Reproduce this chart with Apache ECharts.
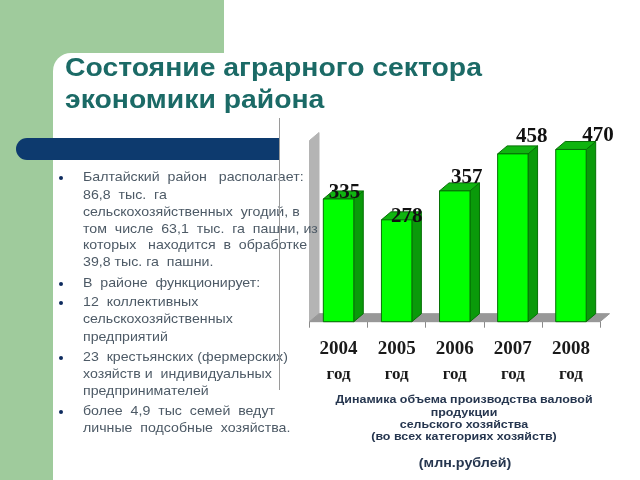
<!DOCTYPE html>
<html>
<head>
<meta charset="utf-8">
<style>
  html, body { margin: 0; padding: 0; background: #fff; }
  #chart { width: 640px; height: 480px; }
</style>
<script src="https://cdn.jsdelivr.net/npm/echarts@6/dist/echarts.min.js"></script>
</head>
<body>
<div id="chart"></div>
<script>
var years = ['2004', '2005', '2006', '2007', '2008']
var yearUnit = 'год'
var output = [335, 278, 357, 458, 470]
// the value labels sit off-centre in the original, [dx, dy] from the bar top
var labelNudge = [[6, -6], [10, -3], [12, -13], [19, -17], [27, -14]]

var titleLines = ['Состояние аграрного сектора', 'экономики района']
var bodyLines = [
  'Балтайский  район   располагает:',
  '86,8  тыс.  га',
  'сельскохозяйственных  угодий, в',
  'том  числе  63,1  тыс.  га  пашни, из',
  'которых   находится  в  обработке',
  '39,8 тыс. га  пашни.',
  'В  районе  функционирует:',
  '12  коллективных',
  'сельскохозяйственных',
  'предприятий',
  '23  крестьянских (фермерских)',
  'хозяйств и  индивидуальных',
  'предпринимателей',
  'более  4,9  тыс  семей  ведут',
  'личные  подсобные  хозяйства.'
]
var bodyLineY = [177, 195, 212, 229, 245, 262, 283, 302, 319, 337, 357, 374, 391, 411, 428]
var bulletLines = [0, 6, 7, 10, 13]
var captionLines = [
  'Динамика объема производства валовой',
  'продукции',
  'сельского хозяйства',
  '(во всех категориях хозяйств)'
]
var captionLineY = [400, 413, 425, 437]
var captionUnit = '(млн.рублей)'

var depthX = 9.5
var depthY = 8

function poly(points, fill, stroke) {
  return {
    type: 'polygon',
    shape: { points: points },
    style: { fill: fill, stroke: stroke || fill, lineWidth: 1 }
  }
}

function renderBackdrop(params) {
  var c = params.coordSys
  var bottom = c.y + c.height
  var right = c.x + c.width
  return {
    type: 'group',
    children: [
      poly([[c.x, bottom], [c.x, c.y + 2], [c.x + depthX, c.y - 6], [c.x + depthX, bottom - depthY]], '#b4b4b4'),
      poly([[c.x, bottom], [c.x + depthX, bottom - depthY], [right + depthX, bottom - depthY], [right, bottom]], '#989898')
    ]
  }
}

function renderBar(params, api) {
  var i = params.dataIndex
  var top = api.coord([api.value(0), api.value(1)])
  var base = api.coord([api.value(0), 0])
  var half = api.size([1, 0])[0] * 0.262
  var l = top[0] - half
  var r = top[0] + half
  var edge = '#067006'
  return {
    type: 'group',
    children: [
      poly([[r, top[1]], [r + depthX, top[1] - depthY], [r + depthX, base[1] - depthY], [r, base[1]]], '#0a9a0a', edge),
      poly([[l, top[1]], [l + depthX, top[1] - depthY], [r + depthX, top[1] - depthY], [r, top[1]]], '#10b410', edge),
      {
        type: 'rect',
        shape: { x: l, y: top[1], width: r - l, height: base[1] - top[1] },
        style: { fill: '#00ff00', stroke: edge, lineWidth: 1 }
      },
      {
        type: 'text',
        z2: 10,
        style: {
          text: String(api.value(1)),
          x: top[0] + labelNudge[i][0],
          y: top[1] + labelNudge[i][1],
          align: 'center',
          verticalAlign: 'middle',
          font: 'bold 21px "Liberation Serif"',
          fill: '#111'
        }
      }
    ]
  }
}

// the slide text is stretched sideways in the original, hence scaleX
function text(str, x, y, font, fill, align, stretch) {
  return {
    type: 'text',
    z: 3,
    x: x,
    y: y,
    scaleX: stretch || 1,
    style: { text: str, font: font, fill: fill, align: align || 'left', verticalAlign: 'middle' }
  }
}

var graphics = [
  { type: 'rect', z: -3, shape: { x: 0, y: 0, width: 224, height: 480 }, style: { fill: '#9fcb9c' } },
  { type: 'rect', z: -2, shape: { x: 53, y: 53, width: 587, height: 427, r: [18, 0, 0, 0] }, style: { fill: '#fff' } },
  { type: 'rect', z: -1, shape: { x: 16, y: 138, width: 263, height: 22, r: [11, 0, 0, 11] }, style: { fill: '#0d3a6e' } },
  { type: 'rect', z: 4, shape: { x: 279, y: 118, width: 1, height: 272 }, style: { fill: '#9a9a9a' } }
]
titleLines.forEach(function (s, i) {
  graphics.push(text(s, 65, 69 + i * 32, 'bold 26px "Liberation Sans"', '#1b6a66', 'left', 1.09))
})
bodyLines.forEach(function (s, i) {
  graphics.push(text(s, 83, bodyLineY[i], '13px "Liberation Sans"', '#4d5a66', 'left', 1.09))
})
bulletLines.forEach(function (i) {
  graphics.push({ type: 'circle', z: 3, shape: { cx: 61, cy: bodyLineY[i] + 1, r: 2 }, style: { fill: '#0d2a5e' } })
})
captionLines.forEach(function (s, i) {
  graphics.push(text(s, 464, captionLineY[i], 'bold 11px "Liberation Sans"', '#26364f', 'center', 1.13))
})
graphics.push(text(captionUnit, 465, 463, 'bold 13px "Liberation Sans"', '#26364f', 'center', 1.1))

var chart = echarts.init(document.getElementById('chart'))
chart.setOption({
  animation: false,
  backgroundColor: '#fff',
  graphic: graphics,
  grid: { left: 309.5, right: 40, top: 138.5, bottom: 158.3 },
  xAxis: {
    type: 'category',
    data: years,
    axisLine: { show: true, lineStyle: { color: '#8a8a8a' } },
    axisTick: { show: true, length: 6, lineStyle: { color: '#8a8a8a' } },
    axisLabel: {
      margin: 15,
      formatter: function (v) { return '{y|' + v + '}\n{u|' + yearUnit + '}' },
      rich: {
        y: { fontFamily: 'Liberation Serif', fontWeight: 'bold', fontSize: 19, color: '#1a1a1a', lineHeight: 25 },
        u: { fontFamily: 'Liberation Serif', fontWeight: 'bold', fontSize: 17, color: '#1a1a1a', lineHeight: 25 }
      }
    }
  },
  yAxis: { type: 'value', min: 0, max: 500, show: false, splitLine: { show: false } },
  series: [
    { type: 'custom', name: 'backdrop', renderItem: renderBackdrop, data: [[0]], clip: false, silent: true, z: 1, encode: { x: 0 } },
    {
      type: 'custom',
      name: 'output',
      renderItem: renderBar,
      clip: false,
      z: 2,
      encode: { x: 0, y: 1 },
      data: output.map(function (v, i) { return [i, v] })
    }
  ]
})
</script>
</body>
</html>
